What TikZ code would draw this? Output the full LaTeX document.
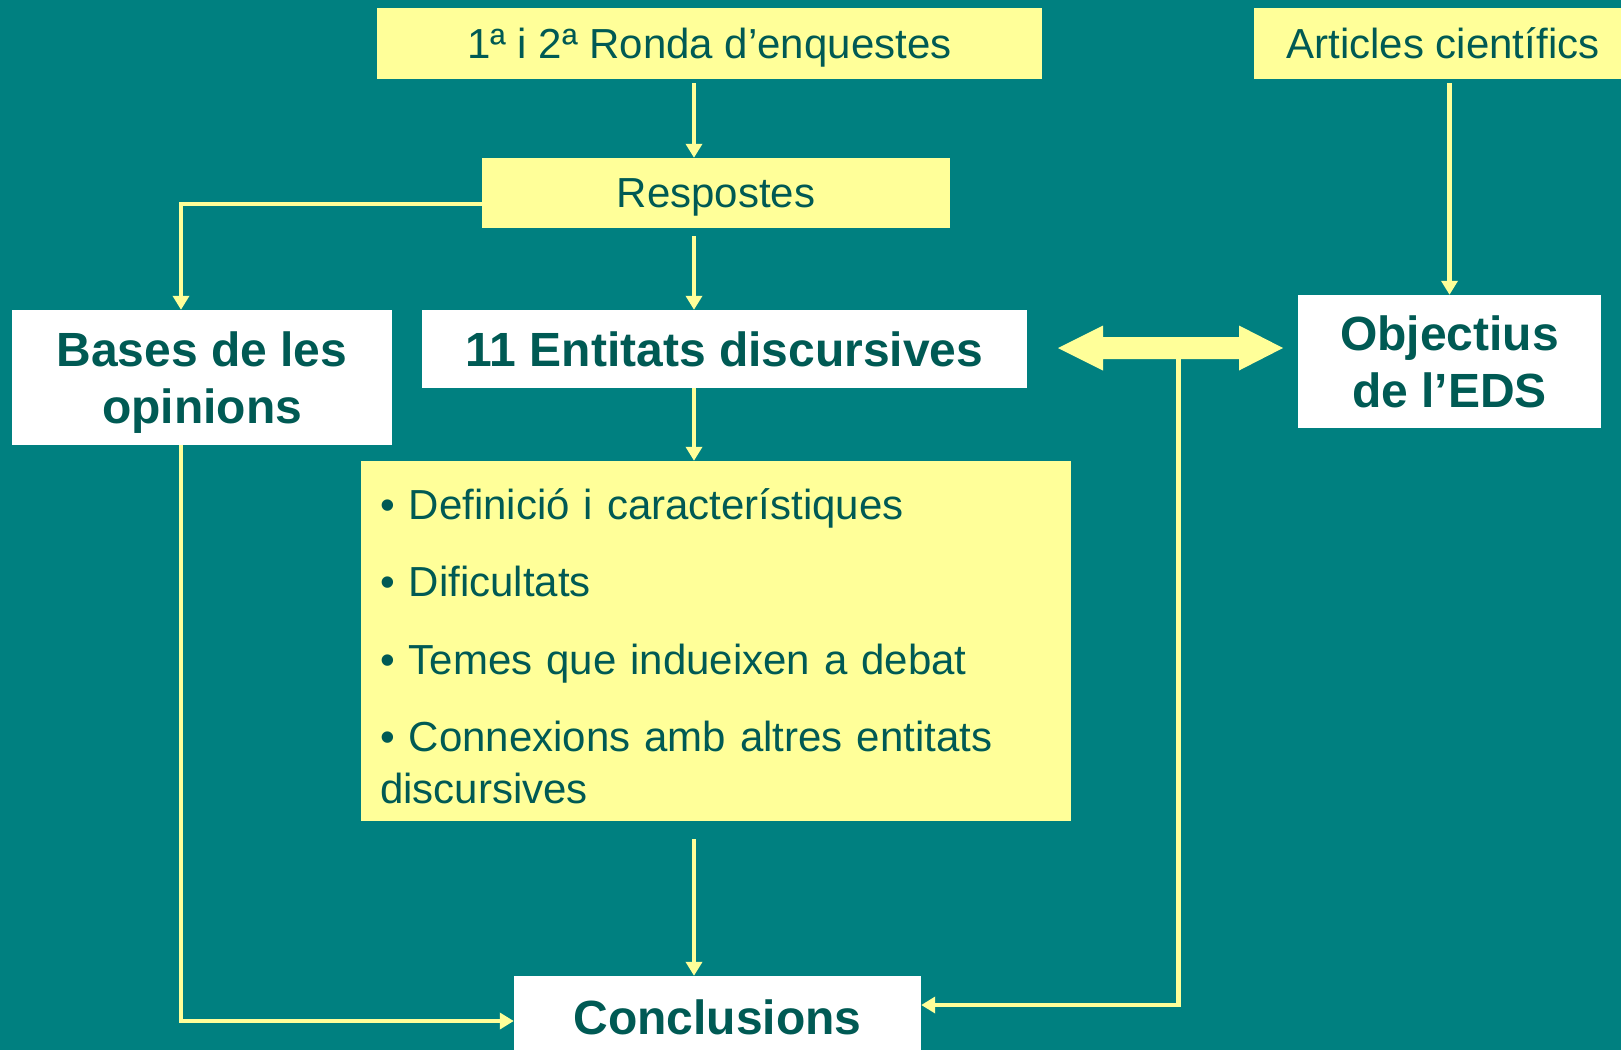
\documentclass[tikz,border=0pt]{standalone}
\usepackage{fontspec}
\setmainfont{Liberation Sans}
\usepackage{tikz}
\usetikzlibrary{arrows.meta, positioning}
\definecolor{tealbg}{RGB}{0,128,128}
\definecolor{paleyellow}{RGB}{255,255,153}
\definecolor{darkteal}{RGB}{0,90,84}
\tikzset{
    yellowbox/.style={rectangle, inner sep=0pt, text centered, text depth=0pt, fill=paleyellow, text=darkteal, font=\fontsize{42}{48}\selectfont},
    whitebox/.style={rectangle, inner sep=0pt, align=center, text depth=0pt, fill=white, text=darkteal, font=\fontsize{48}{57}\selectfont\bfseries},
    arrow/.style={draw=paleyellow, line width=4.5pt, -{Triangle[width=16pt,length=14pt]}},
}

\begin{document}
\begin{tikzpicture}[x=1pt, y=-1pt]
  \fill[tealbg] (0,0) rectangle (1621,1050);
  \useasboundingbox (0,0) rectangle (1621,1050);

  \node[yellowbox, minimum width=665pt, minimum height=71pt] (ronda) at (709.5,43.5) {1ª i 2ª Ronda d’enquestes};
  \node[yellowbox, minimum width=378pt, minimum height=71pt] (articles) at (1443,43.5) {Articles científics};
  \node[yellowbox, minimum width=468pt, minimum height=70pt] (respostes) at (716,193) {Respostes};
  \node[whitebox, minimum width=380pt, minimum height=135pt] (bases) at (202,377.5) {Bases de les\\opinions};
  \node[whitebox, minimum width=605pt, minimum height=78pt, text depth=-8pt] (entitats) at (724.5,349) {11 Entitats discursives};
  \node[whitebox, minimum width=303pt, minimum height=133pt, text depth=-3pt] (objectius) at (1449.5,361.5) {Objectius\\de l’EDS};
  \node[yellowbox, minimum width=710pt, minimum height=360pt, text width=672pt, align=left, text depth=274.5pt, font=\fontsize{42}{52}\selectfont] (llista) at (716,641)
    {• Definició i característiques\\[25.5pt]%
• Dificultats\\[25.5pt]%
• Temes que indueixen a debat\\[25.5pt]%
• Connexions amb altres entitats\\%
discursives};
  \node[whitebox, minimum width=407pt, minimum height=82pt] (conclusions) at (717.5,1017) {Conclusions};

  \coordinate (spine) at (694,0);
  \coordinate (basex) at (181,0);
  \coordinate (linkfoot) at (1178.5,359);

  % double arrow between the entities and the objectives
  \fill[paleyellow] (1058,348) -- (1103,325.5) -- (1103,337) -- (1239,337) -- (1239,325.5) -- (1283,348)
    -- (1239,370.5) -- (1239,359) -- (1103,359) -- (1103,370.5) -- cycle;

  \draw[arrow, shorten <=4pt] (ronda.south -| spine) -- (respostes.north -| spine);
  \draw[arrow, shorten <=8pt] (respostes.south -| spine) -- (entitats.north -| spine);
  \draw[arrow] ([yshift=-11pt]respostes.west) -| (bases.north -| basex);
  \draw[arrow] (entitats.south -| spine) -- (llista.north -| spine);
  \draw[arrow, shorten <=18pt] (llista.south -| spine) -- (conclusions.north -| spine);
  \draw[arrow] (bases.south -| basex) |- ([yshift=-4pt]conclusions.west);
  \draw[arrow] (linkfoot) |- ([yshift=12pt]conclusions.east);
  \draw[arrow, shorten <=4pt] (articles.south -| objectius.north) -- (objectius.north);
\end{tikzpicture}
\end{document}
